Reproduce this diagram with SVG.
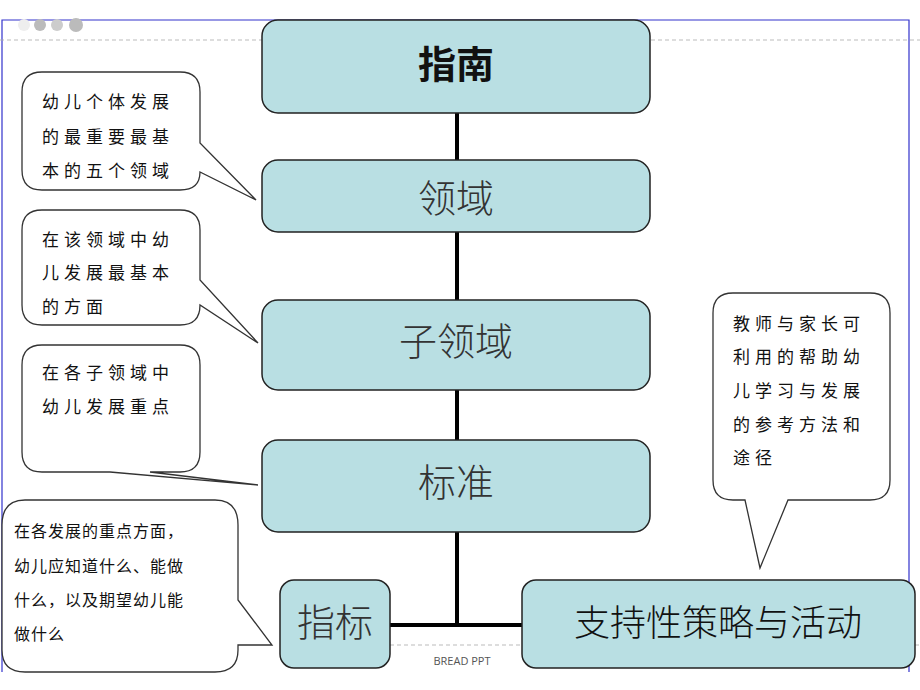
<svg xmlns="http://www.w3.org/2000/svg" width="920" height="690" viewBox="0 0 920 690">
<style>
.box{fill:#b9dfe3;stroke:#222;stroke-width:1.5}
.call{fill:#fff;stroke:#333;stroke-width:1.3}
.ct{font-family:"Noto Sans CJK SC",sans-serif;font-size:17px;letter-spacing:5px;fill:#111}
.bt{font-family:"Noto Sans CJK SC",sans-serif;fill:#333;text-anchor:middle;font-weight:300}
</style>
<rect width="920" height="690" fill="#fff"/>
<path d="M2,672 V20 H909 V672" fill="none" stroke="#3333cc" stroke-width="1.2"/>
<line x1="0" y1="40" x2="920" y2="40" stroke="#aaa" stroke-dasharray="4,3" stroke-width="0.8"/>
<line x1="390" y1="645" x2="920" y2="645" stroke="#aaa" stroke-dasharray="4,3" stroke-width="0.8"/>
<g fill="#bbb"><circle cx="24" cy="25" r="6" fill="#eee"/><circle cx="40" cy="25" r="6"/><circle cx="57" cy="25" r="6" fill="#ccc"/><circle cx="76" cy="25" r="7"/></g>
<g id="connectors" stroke="#000" stroke-width="4">
<line x1="457" y1="113" x2="457" y2="625"/>
<line x1="390" y1="625" x2="522" y2="625"/>
</g>
<g id="n1"><rect class="box" x="262" y="20" width="388" height="93" rx="16"/><text x="456" y="78" class="bt" font-size="38" style="font-weight:700;fill:#111">指南</text></g>
<g id="n2"><rect class="box" x="262" y="160" width="388" height="72" rx="16"/><text x="456" y="212" class="bt" font-size="38">领域</text></g>
<g id="n3"><rect class="box" x="262" y="300" width="388" height="90" rx="16"/><text x="456" y="355" class="bt" font-size="38">子领域</text></g>
<g id="n4"><rect class="box" x="262" y="440" width="388" height="92" rx="16"/><text x="456" y="496" class="bt" font-size="38">标准</text></g>
<g id="n5"><rect class="box" x="280" y="580" width="110" height="88" rx="14"/><text x="335" y="636" class="bt" font-size="38">指标</text></g>
<g id="n6"><rect class="box" x="522" y="580" width="393" height="88" rx="14"/><text x="718" y="636" class="bt" font-size="36" style="fill:#111">支持性策略与活动</text></g>
<g id="c1"><path class="call" d="M42,72 H180 Q200,72 200,92 V143 L256,200 L200,172 Q200,190 180,190 H42 Q22,190 22,170 V92 Q22,72 42,72Z"/>
<text class="ct"><tspan x="42" y="108">幼儿个体发展</tspan><tspan x="42" y="143">的最重要最基</tspan><tspan x="42" y="177">本的五个领域</tspan></text></g>
<g id="c2"><path class="call" d="M42,210 H180 Q200,210 200,230 V280 L258,343 L200,305 Q200,325 180,325 H42 Q22,325 22,305 V230 Q22,210 42,210Z"/>
<text class="ct"><tspan x="42" y="246">在该领域中幼</tspan><tspan x="42" y="279">儿发展最基本</tspan><tspan x="42" y="313">的方面</tspan></text></g>
<g id="c3"><path class="call" d="M42,345 H180 Q200,345 200,365 V452 Q200,472 180,472 H150 L258,485 L110,472 H42 Q22,472 22,452 V365 Q22,345 42,345Z"/>
<text class="ct"><tspan x="42" y="379">在各子领域中</tspan><tspan x="42" y="413">幼儿发展重点</tspan></text></g>
<g id="c4"><path class="call" d="M25,500 H215 Q238,500 238,525 V600 L272,645 L238,645 V650 Q238,672 215,672 H25 Q2,672 2,650 V525 Q2,500 25,500Z"/>
<text class="ct" style="font-size:16px;letter-spacing:1px"><tspan x="14" y="537">在各发展的重点方面，</tspan><tspan x="14" y="572">幼儿应知道什么、能做</tspan><tspan x="14" y="606">什么，以及期望幼儿能</tspan><tspan x="14" y="640">做什么</tspan></text></g>
<g id="c5"><path class="call" d="M733,293 H870 Q890,293 890,313 V480 Q890,500 870,500 H788 L760,568 L745,500 H733 Q713,500 713,480 V313 Q713,293 733,293Z"/>
<text class="ct"><tspan x="733" y="330">教师与家长可</tspan><tspan x="733" y="363">利用的帮助幼</tspan><tspan x="733" y="397">儿学习与发展</tspan><tspan x="733" y="431">的参考方法和</tspan><tspan x="733" y="464">途径</tspan></text></g>
<text x="462" y="665" font-family="Open Sans,sans-serif" font-size="11" fill="#555" text-anchor="middle">BREAD PPT</text>
</svg>
